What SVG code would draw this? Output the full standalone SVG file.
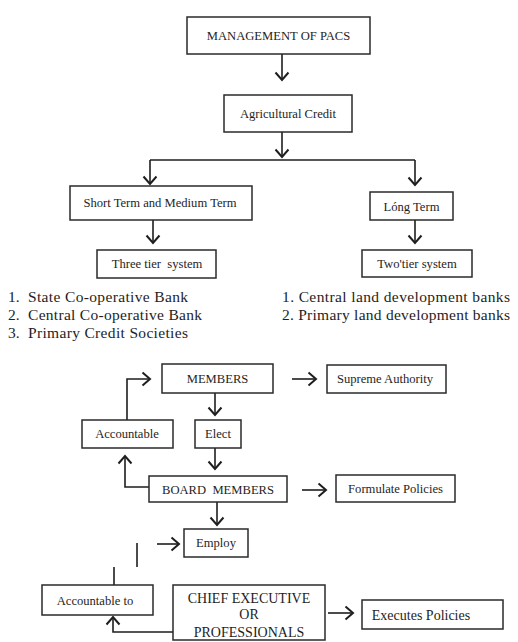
<svg xmlns="http://www.w3.org/2000/svg" width="518" height="642" viewBox="0 0 518 642">
<defs>
<marker id="arr" markerUnits="userSpaceOnUse" viewBox="-10 -10 20 20" markerWidth="20" markerHeight="20" refX="0" refY="0" orient="auto" overflow="visible">
<path d="M-7.5,-6.5 L0,0 L-7.5,6.5" fill="none" stroke="#1e1e1e" stroke-width="2"/>
</marker>
</defs>
<style>
rect{fill:#fff;stroke:#2a2a2a;stroke-width:1.5}
text{font-family:"Liberation Serif","Times New Roman",serif;fill:#1e1e1e;text-anchor:middle;font-size:12.6px}
.big{font-size:14px}
.list{font-size:15.5px;text-anchor:start}
.con path{fill:none;stroke:#1e1e1e;stroke-width:1.6}
</style>
<rect x="0" y="0" width="518" height="642" style="fill:#fff;stroke:none"/>
<g class="con" id="connectors">
<path d="M282,54 V80" marker-end="url(#arr)"/>
<path d="M282,132 V157" marker-end="url(#arr)"/>
<path d="M150,160 H415"/>
<path d="M150,160 V184" marker-end="url(#arr)"/>
<path d="M415,160 V185" marker-end="url(#arr)"/>
<path d="M153,220 V243" marker-end="url(#arr)"/>
<path d="M415,220 V243" marker-end="url(#arr)"/>
<path d="M127,420 V379 H150" marker-end="url(#arr)"/>
<path d="M292,379 H316" marker-end="url(#arr)"/>
<path d="M215,393 V415" marker-end="url(#arr)"/>
<path d="M215,448 V469" marker-end="url(#arr)"/>
<path d="M149,487 H125 V456" marker-end="url(#arr)"/>
<path d="M302,490 H326" marker-end="url(#arr)"/>
<path d="M217,502 V525" marker-end="url(#arr)"/>
<path d="M157,544 H179" marker-end="url(#arr)"/>
<path d="M137,543 V567"/>
<path d="M114,567 V585"/>
<path d="M173,632 H113 V617" marker-end="url(#arr)"/>
<path d="M328,613 H353" marker-end="url(#arr)"/>
</g>
<g id="n_mgmt"><rect x="187" y="17" width="183" height="37"/><text x="278.5" y="40">MANAGEMENT OF PACS</text></g>
<g id="n_agri"><rect x="224" y="95" width="128" height="37"/><text x="288" y="118">Agricultural Credit</text></g>
<g id="n_short"><rect x="70" y="186" width="182" height="34"/><text x="160" y="207">Short Term and Medium Term</text></g>
<g id="n_long"><rect x="370" y="192" width="83" height="28"/><text x="411.5" y="210.5">Lóng Term</text></g>
<g id="n_three"><rect x="97" y="250" width="119" height="28"/><text x="157" y="268" xml:space="preserve">Three tier  system</text></g>
<g id="n_two"><rect x="362" y="250" width="110" height="27"/><text x="417" y="267.5">Two'tier system</text></g>
<g id="list_left">
<text class="list" x="8" y="302"><tspan>1.</tspan><tspan x="28" textLength="160">State Co-operative Bank</tspan></text>
<text class="list" x="8" y="320"><tspan>2.</tspan><tspan x="28" textLength="174">Central Co-operative Bank</tspan></text>
<text class="list" x="8" y="338"><tspan>3.</tspan><tspan x="28" textLength="160">Primary Credit Societies</tspan></text>
</g>
<g id="list_right">
<text class="list" x="282" y="302" textLength="228">1. Central land development banks</text>
<text class="list" x="282" y="320" textLength="228">2. Primary land development banks</text>
</g>
<g id="n_members"><rect x="162" y="364" width="111" height="29"/><text x="217.5" y="383">MEMBERS</text></g>
<g id="n_supreme"><rect x="327" y="365" width="119" height="28"/><text x="385" y="383">Supreme Authority</text></g>
<g id="n_accountable"><rect x="82" y="420" width="91" height="28"/><text x="127" y="438">Accountable</text></g>
<g id="n_elect"><rect x="195" y="420" width="46" height="28"/><text x="218" y="438">Elect</text></g>
<g id="n_board"><rect x="149" y="476" width="138" height="26"/><text x="218" y="493.5" xml:space="preserve">BOARD  MEMBERS</text></g>
<g id="n_formulate"><rect x="336" y="475" width="119" height="27"/><text x="395.5" y="493">Formulate Policies</text></g>
<g id="n_employ"><rect x="184" y="529" width="64" height="28"/><text x="216" y="547">Employ</text></g>
<g id="n_accto"><rect x="42" y="585" width="111" height="30"/><text x="95" y="604.5">Accountable to</text></g>
<g id="n_chief"><rect x="173" y="585" width="152" height="55"/><text class="big" x="249" y="603">CHIEF EXECUTIVE</text><text class="big" x="249" y="619">OR</text><text class="big" x="249" y="637">PROFESSIONALS</text></g>
<g id="n_exec"><rect x="362" y="600" width="141" height="29"/><text class="big" x="421" y="619.5">Executes Policies</text></g>
</svg>
